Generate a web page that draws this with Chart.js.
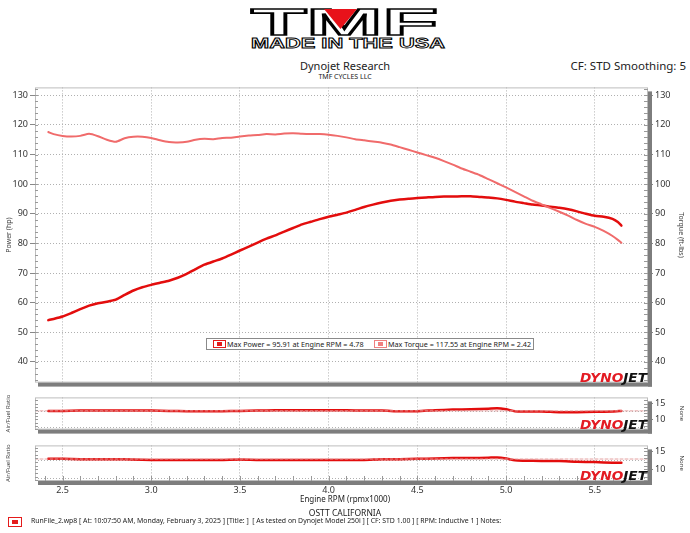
<!DOCTYPE html>
<html>
<head>
<meta charset="utf-8">
<script src="https://cdn.jsdelivr.net/npm/chart.js@4.4.1/dist/chart.umd.min.js"></script>
<style>
  body { margin: 0; width: 690px; height: 533px; background: #fff; position: relative; overflow: hidden;
         font-family: "Noto Sans", sans-serif; color: #222; }
  .abs { position: absolute; white-space: nowrap; }
  canvas { position: absolute; left: 0; }
  .legend { left: 206px; top: 338px; width: 326px; height: 10px; border: 1px solid #8a8a8a; background: #fff;
            font-size: 7.2px; line-height: 10px; }
  .mk { position: absolute; top: 1px; width: 11px; height: 6px; border: 1px solid #e41b1b; }
  .mk i { position: absolute; left: 3px; top: 1px; width: 5px; height: 4px; background: #e41b1b; }
</style>
</head>
<body>

<svg class="abs" style="left:0;top:0" width="690" height="56">
  <text x="251" y="35" textLength="187" lengthAdjust="spacingAndGlyphs" font-family="Liberation Sans"
        font-weight="bold" font-size="37" fill="#fff" stroke="#000" stroke-width="1.6">TMF</text>
  <polygon points="324,9 357,9 340.5,29" fill="#e8121a"/>
  <text x="251" y="48" textLength="194" lengthAdjust="spacingAndGlyphs" font-family="Liberation Sans"
        font-weight="bold" font-size="15" fill="#fff" stroke="#000" stroke-width="0.9">MADE IN THE USA</text>
</svg>

<div class="abs" style="left:0;width:690px;top:58px;text-align:center;font-size:11px">Dynojet Research</div>
<div class="abs" style="left:0;width:690px;top:72px;text-align:center;font-size:7px">TMF CYCLES LLC</div>
<div class="abs" style="right:4px;top:58px;font-size:11.5px">CF: STD Smoothing: 5</div>

<canvas id="main" width="690" height="310" style="top:80px"></canvas>
<canvas id="afr1" width="690" height="47" style="top:390px"></canvas>
<canvas id="afr2" width="690" height="60" style="top:438px"></canvas>

<div class="abs legend">
  <span class="mk" style="left:6px"><i></i></span>
  <span class="abs" style="left:20px">Max Power = 95.91 at Engine RPM = 4.78</span>
  <span class="mk" style="left:167px;border-color:#f08080"><i style="background:#f08080"></i></span>
  <span class="abs" style="left:181px">Max Torque = 117.55 at Engine RPM = 2.42</span>
</div>

<div class="abs" style="left:0;width:690px;top:493px;text-align:center;font-size:8px">Engine RPM (rpmx1000)</div>
<div class="abs" style="left:0;width:690px;top:507px;text-align:center;font-size:8.5px">OSTT CALIFORNIA</div>
<div class="abs" style="left:8px;top:517px;width:12px;height:8px;border:1.5px solid #e41b1b">
  <i style="position:absolute;left:3px;top:2px;width:6px;height:4px;background:#e41b1b"></i></div>
<div class="abs" style="left:31px;top:516px;font-size:6.9px">RunFile_2.wp8 [ At: 10:07:50 AM, Monday, February 3, 2025 ] [Title: ]&nbsp; [ As tested on Dynojet Model 250i ] [ CF: STD 1.00 ] [ RPM: Inductive 1 ] Notes:</div>

<script>
// engine rpm (x1000) and the two dyno curves
const rpm = [2.42, 2.45, 2.50, 2.55, 2.60, 2.65, 2.70, 2.75, 2.80, 2.85, 2.90, 2.95, 3.00, 3.05, 3.10, 3.15,
             3.20, 3.25, 3.30, 3.35, 3.40, 3.45, 3.50, 3.55, 3.60, 3.65, 3.70, 3.75, 3.80, 3.85, 3.90, 3.95,
             4.00, 4.05, 4.10, 4.15, 4.20, 4.25, 4.30, 4.35, 4.40, 4.45, 4.50, 4.55, 4.60, 4.65, 4.70, 4.75,
             4.80, 4.85, 4.90, 4.95, 5.00, 5.05, 5.10, 5.15, 5.20, 5.25, 5.30, 5.35, 5.40, 5.45, 5.50, 5.55,
             5.60, 5.63, 5.65];
const power = [54.1, 54.5, 55.3, 56.5, 57.8, 59.0, 59.8, 60.3, 61.0, 62.6, 64.1, 65.2, 66.0, 66.7, 67.4, 68.4,
               69.7, 71.3, 72.8, 73.9, 74.9, 76.2, 77.6, 78.9, 80.3, 81.6, 82.7, 84.0, 85.2, 86.4, 87.3, 88.2,
               89.0, 89.7, 90.4, 91.3, 92.3, 93.1, 93.8, 94.4, 94.8, 95.1, 95.3, 95.5, 95.7, 95.8, 95.8, 95.9,
               95.9, 95.7, 95.5, 95.2, 94.7, 94.1, 93.6, 93.1, 92.8, 92.4, 92.0, 91.5, 90.8, 90.0, 89.3, 89.0,
               88.3, 87.2, 86.0];
const torque = [117.6, 116.9, 116.3, 116.1, 116.3, 117.0, 116.2, 115.0, 114.3, 115.5, 116.0, 116.0, 115.6, 114.8, 114.2, 114.1,
                114.3, 115.0, 115.3, 115.2, 115.6, 115.7, 116.1, 116.4, 116.6, 116.9, 116.8, 117.1, 117.2, 117.0, 116.9, 116.9,
                116.7, 116.3, 115.8, 115.2, 114.8, 114.4, 114.0, 113.4, 112.5, 111.6, 110.7, 109.8, 108.9, 107.8, 106.6, 105.3,
                104.2, 103.1, 101.7, 100.3, 98.9, 97.4, 95.9, 94.4, 93.2, 91.9, 90.7, 89.4, 87.9, 86.6, 85.6, 84.2,
                82.5, 81.2, 80.2];

// air/fuel ratio traces
const afrRpm = [2.42, 2.5, 2.6, 2.7, 2.8, 2.9, 3.0, 3.1, 3.2, 3.3, 3.4, 3.5, 3.6, 3.7, 3.8, 3.9, 4.0, 4.1,
                4.2, 4.3, 4.4, 4.5, 4.6, 4.7, 4.8, 4.9, 4.95, 5.0, 5.05, 5.1, 5.2, 5.3, 5.4, 5.5, 5.6, 5.65];
const afr1 = [12.7, 12.7, 12.8, 12.8, 12.8, 12.8, 12.8, 12.7, 12.6, 12.6, 12.6, 12.7, 12.8, 12.9, 12.9, 12.9, 12.9, 12.9,
              12.8, 12.8, 12.6, 12.6, 12.9, 13.1, 13.2, 13.4, 13.55, 13.2, 12.6, 12.5, 12.5, 12.3, 12.3, 12.4, 12.5, 12.7];
const afr2 = [12.9, 12.9, 12.8, 12.8, 12.8, 12.7, 12.6, 12.6, 12.6, 12.6, 12.6, 12.7, 12.6, 12.6, 12.6, 12.6, 12.6, 12.6,
              12.6, 12.8, 12.8, 12.9, 13.0, 13.1, 13.1, 13.2, 13.3, 13.0, 12.5, 12.4, 12.3, 12.3, 12.1, 12.0, 11.8, 11.8];
const afrTarget1 = 12.7;
const afrTarget2 = 12.85;

// ticks
const rpmTicks = [2.5, 3.0, 3.5, 4.0, 4.5, 5.0, 5.5];
const rpmMinor = [2.4, 2.5, 2.6, 2.7, 2.8, 2.9, 3.0, 3.1, 3.2, 3.3, 3.4, 3.5, 3.6, 3.7, 3.8, 3.9, 4.0, 4.1, 4.2,
                  4.3, 4.4, 4.5, 4.6, 4.7, 4.8, 4.9, 5.0, 5.1, 5.2, 5.3, 5.4, 5.5, 5.6, 5.7];
const powerTicks = [40, 50, 60, 70, 80, 90, 100, 110, 120, 130];
const powerMinor = [34, 36, 38, 40, 42, 44, 46, 48, 50, 52, 54, 56, 58, 60, 62, 64, 66, 68, 70, 72, 74, 76, 78, 80,
                    82, 84, 86, 88, 90, 92, 94, 96, 98, 100, 102, 104, 106, 108, 110, 112, 114, 116, 118, 120,
                    122, 124, 126, 128, 130, 132];
const afrTicks = [10, 15];
const afrGrid = [7.5, 10, 12.5, 15];
const afrMinor = [7, 8, 9, 10, 11, 12, 13, 14, 15, 16];

const X_MIN = 2.345, X_MAX = 5.80;
const FONT = '"Noto Sans", sans-serif';
const GRID = '#b0b0b0';

const pts = (xs, ys) => xs.map((x, i) => ({ x: x, y: ys[i] }));

function line(ctx, x1, y1, x2, y2) {
    ctx.beginPath(); ctx.moveTo(x1, y1); ctx.lineTo(x2, y2); ctx.stroke();
}

// plot frame, drop shadow, minor ticks and the DynoJet mark
const dynoFrame = {
    id: 'dynoFrame',
    afterDraw(chart, args, o) {
        const ctx = chart.ctx, a = chart.chartArea;
        const ys = chart.scales.y, xs = chart.scales.x;
        ctx.save();
        ctx.strokeStyle = '#bdbdbd';
        ctx.lineWidth = 1;
        ctx.strokeRect(a.left + 0.5, a.top + 0.5, a.right - a.left - 1, a.bottom - a.top - 1);
        ctx.fillStyle = '#7d7d7d';
        ctx.fillRect(a.right, a.top + 4, 4, a.bottom - a.top);
        ctx.fillRect(a.left + 3, a.bottom, a.right - a.left + 1, 4);

        ctx.strokeStyle = '#999';
        o.yMinor.forEach(v => {
            if (v < ys.min || v > ys.max) return;
            const p = Math.round(ys.getPixelForValue(v)) + 0.5;
            line(ctx, a.left, p, a.left + 3, p);
            line(ctx, a.right - 4, p, a.right, p);
        });
        if (o.xMinor) {
            o.xMinor.forEach(v => {
                if (v < xs.min || v > xs.max) return;
                const p = Math.round(xs.getPixelForValue(v)) + 0.5;
                line(ctx, p, a.bottom - 5, p, a.bottom);
            });
        }

        // DynoJet mark in bottom right corner
        ctx.font = 'italic bold 15px "DejaVu Sans"';
        const w1 = ctx.measureText('DYNO').width, w2 = ctx.measureText('JET').width;
        const k = 67 / (w1 + w2);
        ctx.translate(a.right - 68, a.bottom - 1);
        ctx.scale(k, 0.85);
        ctx.textBaseline = 'alphabetic';
        ctx.fillStyle = '#e31b23';
        ctx.fillText('DYNO', 0, 0);
        ctx.fillStyle = '#111';
        ctx.fillText('JET', w1, 0);
        ctx.restore();
    }
};

function rpmAxis(showLabels, height) {
    return {
        type: 'linear', min: X_MIN, max: X_MAX,
        afterBuildTicks: s => { s.ticks = rpmTicks.map(v => ({ value: v })); },
        afterFit: s => { s.height = height; },
        ticks: { display: showLabels, font: { family: FONT, size: 9 }, color: '#333', padding: 4,
                 maxRotation: 0, callback: v => v.toFixed(1) },
        grid: { color: GRID, drawTicks: false },
        border: { display: false, dash: [1, 2] }
    };
}

function valueAxes(min, max, ticks, title, rightTitle, titleSize, gridVals) {
    return {
        y: {
            position: 'left', min: min, max: max,
            afterBuildTicks: s => { s.ticks = gridVals.map(v => ({ value: v })); },
            afterFit: s => { s.width = 35; },
            ticks: { font: { family: FONT, size: 9 }, color: '#333', padding: 2,
                     callback: v => ticks.includes(v) ? String(v) : '' },
            grid: { color: GRID, tickColor: ctx => ticks.includes(ctx.tick.value) ? '#888' : 'rgba(0,0,0,0)', tickLength: 5 },
            border: { display: false, dash: [1, 2] },
            title: { display: true, text: title, font: { family: FONT, size: titleSize }, color: '#444', padding: { top: 5, bottom: 0 } }
        },
        y2: {
            position: 'right', min: min, max: max,
            afterBuildTicks: s => { s.ticks = ticks.map(v => ({ value: v })); },
            afterFit: s => { s.width = 42; },
            ticks: { font: { family: FONT, size: 9 }, color: '#333', padding: 2 },
            grid: { drawOnChartArea: false, tickColor: '#888', tickLength: 5 },
            border: { display: false },
            title: { display: true, text: rightTitle, font: { family: FONT, size: titleSize }, color: '#444', padding: { top: 5, bottom: 0 } }
        }
    };
}

const base = (top) => ({
    responsive: false, animation: false, events: [],
    layout: { padding: { top: top, left: 0, right: 0, bottom: 0 } },
    elements: { point: { radius: 0 }, line: { tension: 0.2, borderCapStyle: 'round', borderJoinStyle: 'round' } },
    plugins: { legend: { display: false }, tooltip: { enabled: false } }
});

// main power / torque chart
new Chart(document.getElementById('main'), {
    type: 'line',
    data: {
        datasets: [
            { label: 'Torque', data: pts(rpm, torque), borderColor: '#f06b6b', borderWidth: 2, yAxisID: 'y2' },
            { label: 'Power', data: pts(rpm, power), borderColor: '#e30d0d', borderWidth: 2.5, yAxisID: 'y' }
        ]
    },
    options: Object.assign(base(6), {
        scales: Object.assign({ x: rpmAxis(false, 5) },
            valueAxes(33, 132.67, powerTicks, 'Power (hp)', 'Torque (ft-lbs)', 7, powerTicks)),
        plugins: { legend: { display: false }, tooltip: { enabled: false }, dynoFrame: { yMinor: powerMinor } }
    }),
    plugins: [dynoFrame]
});

function afrChart(id, values, target, min, max, xHeight, showX) {
    return new Chart(document.getElementById(id), {
        type: 'line',
        data: {
            datasets: [
                { label: 'target', data: [{ x: X_MIN, y: target }, { x: X_MAX, y: target }],
                  borderColor: '#e4a0a0', borderWidth: 1, borderDash: [3, 2], tension: 0 },
                { label: 'Air/Fuel Ratio', data: pts(afrRpm, values), borderColor: '#e30d0d', borderWidth: 2.5 }
            ]
        },
        options: Object.assign(base(5), {
            scales: Object.assign({ x: rpmAxis(showX, xHeight) },
                valueAxes(min, max, afrTicks, 'Air/Fuel Ratio', 'None', 6, afrGrid)),
            plugins: { legend: { display: false }, tooltip: { enabled: false },
                       dynoFrame: { yMinor: afrMinor, xMinor: showX ? rpmMinor : null } }
        }),
        plugins: [dynoFrame]
    });
}

afrChart('afr1', afr1, afrTarget1, 6.8, 16.95, 4, false);
afrChart('afr2', afr2, afrTarget2, 6.8, 16.6, 17, true);
</script>
</body>
</html>
